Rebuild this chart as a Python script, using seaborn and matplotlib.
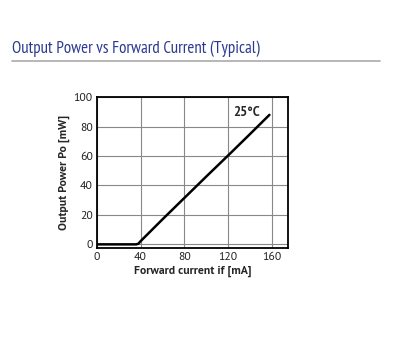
import matplotlib
matplotlib.use("Agg")
import matplotlib.pyplot as plt
import seaborn as sns
import pandas as pd

current_ma = [0, 20, 36, 38, 40, 60, 80, 100, 120, 140, 158]
power_mw = [0, 0, 0, 0.5, 2.2, 17, 31.5, 46, 60.3, 74.8, 88]
x_ticks = [0, 40, 80, 120, 160]
y_ticks = [0, 20, 40, 60, 80, 100]

sns.set_theme(style="white")
plt.rcParams['font.family'] = ['PT Sans', 'DejaVu Sans']

df = pd.DataFrame({"If": current_ma, "Po": power_mw})

fig = plt.figure(figsize=(4, 3.5), dpi=100)
ax = fig.add_axes([0.2425, 0.2926, 0.4775, 0.4297])
sns.lineplot(data=df, x="If", y="Po", ax=ax, color="black", linewidth=1.8)

ax.set_xlim(0, 175)
ax.set_ylim(-2.2, 100)
ax.set_xticks(x_ticks)
ax.set_yticks(y_ticks)
ax.grid(True, color="#888888", linewidth=0.8)
for s in ax.spines.values():
    s.set_color("black")
    s.set_linewidth(1.3)
ax.tick_params(axis="both", labelsize=8.5, length=0, pad=3, colors="#222222")
ax.set_xlabel("Forward current if [mA]", fontsize=8.5, fontweight="bold", labelpad=3)
ax.set_ylabel("Output Power Po [mW]", fontsize=8.5, fontweight="bold", labelpad=3)
ax.text(124.5, 89.5, "25°C", fontsize=9, fontweight="bold", ha="left", va="center")

fig.text(0.03, 0.86, "Output Power vs Forward Current (Typical)", fontsize=12.2,
         color="#2b3990", family=["PT Sans Narrow", "DejaVu Sans"],
         ha="left", va="center")
fig.add_artist(plt.Line2D([0.03, 0.95], [0.826, 0.826], color="#aaaaaa", linewidth=1.2,
                          transform=fig.transFigure))

fig.savefig("out.png", dpi=100)
